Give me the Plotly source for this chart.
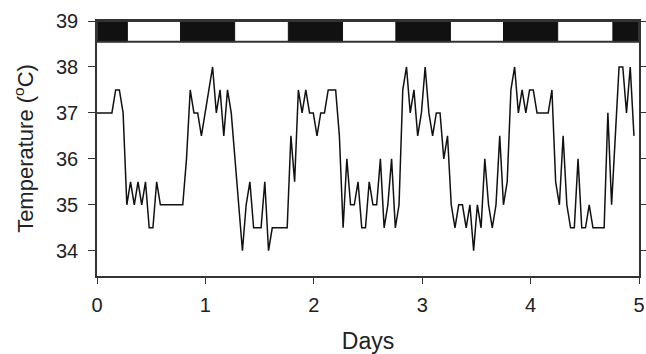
import plotly.graph_objects as go

# Sampling interval of the temperature record (days)
SAMPLE_DAYS = 0.0344

# Body temperature readings (°C), in time order
temps = [
    37, 37, 37, 37, 37, 37.5, 37.5, 37, 35, 35.5,
    35, 35.5, 35, 35.5, 34.5, 34.5, 35.5, 35, 35, 35,
    35, 35, 35, 35, 36, 37.5, 37, 37, 36.5, 37,
    37.5, 38, 37, 37.5, 36.5, 37.5, 37, 36, 35, 34,
    35, 35.5, 34.5, 34.5, 34.5, 35.5, 34, 34.5, 34.5, 34.5,
    34.5, 34.5, 36.5, 35.5, 37.5, 37, 37.5, 37, 37, 36.5,
    37, 37, 37.5, 37.5, 37.5, 36.5, 34.5, 36, 35, 35,
    35.5, 34.5, 34.5, 35.5, 35, 35, 36, 34.5, 35, 36,
    34.5, 35, 37.5, 38, 37, 37.5, 36.5, 37, 38, 37,
    36.5, 37, 37, 36, 36.5, 35, 34.5, 35, 35, 34.5,
    35, 34, 35, 34.5, 36, 35, 34.5, 35, 36.5, 35,
    35.5, 37.5, 38, 37, 37.5, 37, 37.5, 37.5, 37, 37,
    37, 37, 37.5, 35.5, 35, 36.5, 35, 34.5, 34.5, 36,
    34.5, 34.5, 35, 34.5, 34.5, 34.5, 34.5, 37, 35, 36.5,
    38, 38, 37, 38, 36.5,
]
days = [i * SAMPLE_DAYS for i in range(len(temps))]

# Light/dark bar (dark periods, in days)
dark_start = [0.0, 0.77, 1.765, 2.757, 3.75, 4.759]
dark_end = [0.28, 1.27, 2.265, 3.26, 4.25, 5.0]

x_ticks = [0, 1, 2, 3, 4, 5]
y_ticks = [34, 35, 36, 37, 38, 39]

BAR_LOW, BAR_HIGH = 38.55, 39.0
X_RANGE = [0, 5]
Y_RANGE = [33.45, 39]

font_family = "Liberation Sans, Arial, sans-serif"

fig = go.Figure()
fig.add_trace(go.Scatter(
    x=days, y=temps, mode="lines",
    line=dict(color="#111111", width=1.5),
    showlegend=False, hoverinfo="skip",
))

shapes = []
shapes.append(dict(type="rect", xref="x", yref="y", x0=X_RANGE[0], x1=X_RANGE[1],
                   y0=BAR_LOW, y1=BAR_HIGH, fillcolor="white", line=dict(width=0), layer="above"))
for s, e in zip(dark_start, dark_end):
    shapes.append(dict(type="rect", xref="x", yref="y", x0=s, x1=e,
                       y0=BAR_LOW, y1=BAR_HIGH, fillcolor="#111111",
                       line=dict(color="#111111", width=1), layer="above"))
shapes.append(dict(type="rect", xref="x", yref="y", x0=X_RANGE[0], x1=X_RANGE[1],
                   y0=BAR_LOW, y1=BAR_HIGH, fillcolor="rgba(0,0,0,0)",
                   line=dict(color="#333333", width=2), layer="above"))

fig.update_layout(
    width=646, height=354,
    margin=dict(l=97, r=7, t=21, b=78, autoexpand=False),
    paper_bgcolor="white", plot_bgcolor="white",
    font=dict(family=font_family, color="#222222"),
    shapes=shapes,
    xaxis=dict(
        range=X_RANGE, tickvals=x_ticks, ticktext=[str(v) for v in x_ticks],
        showgrid=False, zeroline=False, automargin=False,
        showline=True, linecolor="#333333", linewidth=1.5, mirror=True,
        ticks="outside", ticklen=6, tickwidth=1.2, tickcolor="#333333",
        tickfont=dict(size=20, family=font_family, color="#222222"),
        ticklabelstandoff=4, ticklabeloverflow="allow",
        title=dict(text="Days", font=dict(size=23, family=font_family, color="#222222"), standoff=20),
    ),
    yaxis=dict(
        range=Y_RANGE, tickvals=y_ticks, ticktext=[str(v) for v in y_ticks],
        showgrid=False, zeroline=False, automargin=False,
        showline=True, linecolor="#333333", linewidth=1.5, mirror="ticks",
        ticks="outside", ticklen=7, tickwidth=1.2, tickcolor="#333333",
        tickfont=dict(size=20, family=font_family, color="#222222"),
        ticklabelstandoff=6,
        title=dict(text="Temperature (<sup>o</sup>C)", font=dict(size=22, family=font_family, color="#222222"), standoff=16),
    ),
)

fig.write_html("out.html")
